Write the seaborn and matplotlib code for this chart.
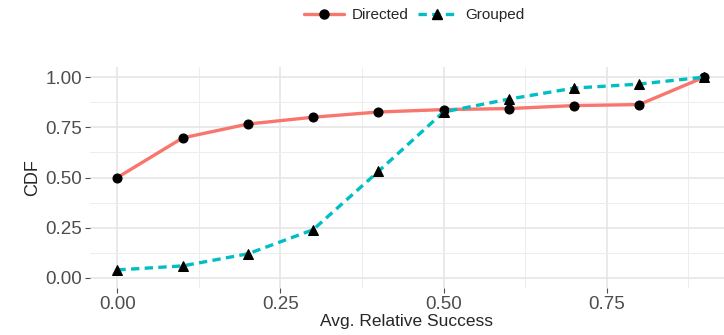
import pandas as pd
import seaborn as sns
import matplotlib.pyplot as plt
from matplotlib.lines import Line2D
from matplotlib.ticker import MultipleLocator

# values
success = [0.0, 0.1, 0.2, 0.3, 0.4, 0.5, 0.6, 0.7, 0.8, 0.9]
directed_cdf = [0.50, 0.697, 0.766, 0.80, 0.826, 0.838, 0.843, 0.858, 0.863, 1.0]
grouped_cdf = [0.04, 0.06, 0.12, 0.24, 0.53, 0.826, 0.89, 0.945, 0.965, 1.0]
series = ['Directed', 'Grouped']
colors = {'Directed': '#F8766D', 'Grouped': '#00BFC4'}

df = pd.concat([
    pd.DataFrame({'x': success, 'cdf': directed_cdf, 'type': 'Directed'}),
    pd.DataFrame({'x': success, 'cdf': grouped_cdf, 'type': 'Grouped'}),
])

sns.set_style('whitegrid')
plt.rcParams['font.family'] = ['Liberation Sans', 'DejaVu Sans']

fig = plt.figure(figsize=(7.24, 3.35), dpi=100)
ax = fig.add_axes([90 / 724, 1 - 288 / 335, 634 / 724, 221 / 335])

sns.lineplot(data=df, x='x', y='cdf', hue='type', style='type', hue_order=series,
             style_order=series, palette=colors, markers=['o', '^'],
             dashes=['', (2.5, 1.6)], linewidth=2.4, markersize=6.5,
             legend=False, ax=ax)
for ln in ax.get_lines():
    ln.set_markerfacecolor('black')
    ln.set_markeredgecolor('black')
    if ln.get_marker() == '^':
        ln.set_markersize(7.5)

ax.set_xlim(-0.042, 0.93)
ax.set_ylim(-0.05, 1.05)
ax.xaxis.set_minor_locator(MultipleLocator(0.125))
ax.yaxis.set_minor_locator(MultipleLocator(0.125))
ax.set_xticks([0, 0.25, 0.5, 0.75])
ax.set_xticklabels(['0.00', '0.25', '0.50', '0.75'])
ax.set_yticks([0, 0.25, 0.5, 0.75, 1.0])
ax.set_yticklabels(['0.00', '0.25', '0.50', '0.75', '1.00'])
ax.grid(which='major', color='#E6E6E6', linewidth=1.2)
ax.grid(which='minor', color='#EDEDED', linewidth=0.7)
for s in ax.spines.values():
    s.set_visible(False)
ax.tick_params(which='major', bottom=True, left=True, length=3.5, width=0.8,
               color='#4D4D4D', labelsize=13.5, labelcolor='#4D4D4D', pad=2)
ax.tick_params(which='minor', bottom=False, left=False)
ax.set_xlabel('Avg. Relative Success', fontsize=12.5, labelpad=1)
ax.set_ylabel('CDF', fontsize=13, labelpad=3)

handles = [
    Line2D([], [], color=colors['Directed'], lw=2.4, marker='o', mfc='black',
           mec='black', markersize=6.5),
    Line2D([], [], color=colors['Grouped'], lw=2.4, ls=(0, (2.5, 1.6)), marker='^',
           mfc='black', mec='black', markersize=7.5),
]
fig.legend(handles, series, loc='center', bbox_to_anchor=(0.572, 0.955), ncol=2,
           frameon=False, fontsize=11, handlelength=2.6, columnspacing=0.6,
           handletextpad=0.5)

plt.savefig('out.png', dpi=100)
